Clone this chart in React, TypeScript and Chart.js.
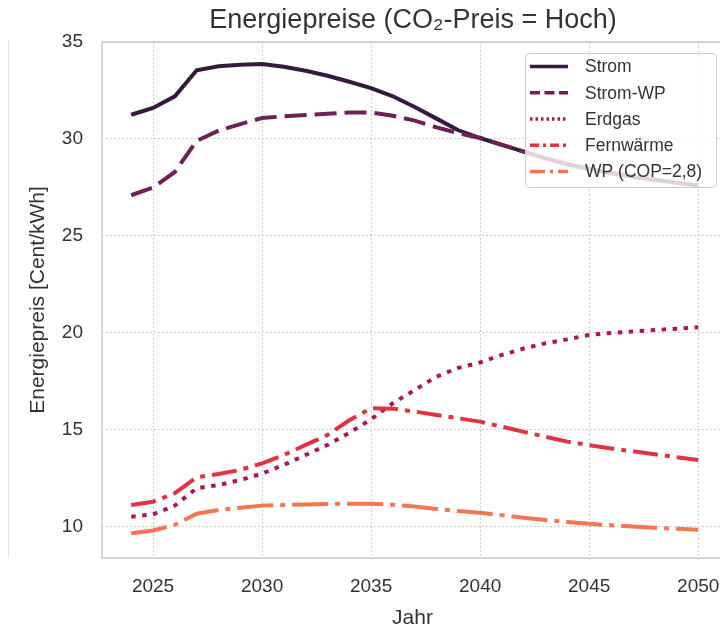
import React, { useEffect, useRef } from "react";
import { Chart, registerables } from "chart.js";

Chart.register(...registerables);

const years = [2024, 2025, 2026, 2027, 2028, 2029, 2030, 2031, 2032, 2033, 2034, 2035, 2036, 2037, 2038, 2039, 2040, 2041, 2042, 2043, 2044, 2045, 2046, 2047, 2048, 2049, 2050];
const strom = [31.25, 31.6, 32.2, 33.54, 33.75, 33.83, 33.87, 33.72, 33.52, 33.26, 32.95, 32.62, 32.2, 31.65, 31.05, 30.45, 30.05, 29.7, 29.35, 29.0, 28.7, 28.45, 28.25, 28.05, 27.9, 27.75, 27.6];
const stromWP = [27.1, 27.5, 28.3, 29.9, 30.43, 30.77, 31.08, 31.17, 31.24, 31.3, 31.37, 31.37, 31.2, 30.95, 30.6, 30.3, 30.05, 29.7, 29.35, 29.0, 28.7, 28.45, 28.25, 28.05, 27.9, 27.75, 27.6];
const erdgas = [10.53, 10.65, 11.1, 12.0, 12.16, 12.42, 12.75, 13.2, 13.71, 14.23, 14.85, 15.55, 16.38, 17.06, 17.75, 18.2, 18.48, 18.87, 19.2, 19.47, 19.67, 19.9, 20.0, 20.08, 20.15, 20.22, 20.3];
const fernwaerme = [11.13, 11.3, 11.74, 12.56, 12.73, 12.94, 13.28, 13.71, 14.23, 14.74, 15.5, 16.12, 16.1, 15.95, 15.77, 15.6, 15.43, 15.17, 14.9, 14.65, 14.4, 14.22, 14.05, 13.9, 13.75, 13.6, 13.45];
const wpCop = [9.68, 9.82, 10.11, 10.68, 10.87, 10.99, 11.1, 11.13, 11.16, 11.18, 11.2, 11.2, 11.14, 11.05, 10.93, 10.82, 10.73, 10.61, 10.48, 10.36, 10.25, 10.16, 10.09, 10.02, 9.96, 9.91, 9.86];

const seriesLabels = ["Strom", "Strom-WP", "Erdgas", "Fernwärme", "WP (COP=2,8)"];
const seriesValues = [strom, stromWP, erdgas, fernwaerme, wpCop];
const colors = ["#35193e", "#701f57", "#ad1759", "#e13342", "#f37651"];
const plotDash: number[][] = [[], [22, 8], [4.5, 6.5], [25, 7, 5, 7], [36, 7, 5, 7]];
const legendDash: number[][] = [[], [10, 4.5], [2.5, 3], [9, 4, 3, 4], [15, 5, 3, 5]];

const xTicks = [2025, 2030, 2035, 2040, 2045, 2050];
const yTicks = [10, 15, 20, 25, 30, 35];

const titleText = "Energiepreise (CO₂-Preis = Hoch)";
const xTitle = "Jahr";
const yTitle = "Energiepreis [Cent/kWh]";

const FONT = '"Liberation Sans", Arial, Helvetica, sans-serif';
const TEXT = "#333333";

const decor = {
  id: "decor",
  beforeDraw(chart: any) {
    const { ctx, chartArea: a } = chart;
    ctx.save();
    ctx.strokeStyle = "#cccccc";
    ctx.lineWidth = 1.5;
    ctx.beginPath();
    ctx.moveTo(a.left, a.top);
    ctx.lineTo(a.right, a.top);
    ctx.moveTo(a.left, a.top);
    ctx.lineTo(a.left, a.bottom);
    ctx.lineTo(a.right, a.bottom);
    ctx.stroke();
    // faint figure edge line
    ctx.strokeStyle = "#e4e4e4";
    ctx.lineWidth = 1;
    ctx.beginPath();
    ctx.moveTo(8.5, a.top - 2);
    ctx.lineTo(8.5, a.bottom);
    ctx.stroke();
    ctx.restore();
  },
  afterDraw(chart: any) {
    const { ctx, chartArea: a } = chart;
    ctx.save();
    ctx.fillStyle = TEXT;
    // title
    ctx.font = `27px ${FONT}`;
    ctx.textAlign = "center";
    ctx.textBaseline = "alphabetic";
    ctx.fillText(titleText, 413, 28);
    // x title
    ctx.font = `21px ${FONT}`;
    ctx.fillText(xTitle, 412.5, 623.5);
    // y title
    ctx.save();
    ctx.translate(43.5, (a.top + a.bottom) / 2);
    ctx.rotate(-Math.PI / 2);
    ctx.fillText(yTitle, 0, 0);
    ctx.restore();

    // legend
    const lx = a.right - 195;
    const ly = a.top + 11;
    const lw = 191;
    const lh = 134;
    ctx.beginPath();
    ctx.roundRect(lx + 0.5, ly + 0.5, lw, lh, 4);
    ctx.fillStyle = "rgba(255,255,255,0.8)";
    ctx.fill();
    ctx.strokeStyle = "#cccccc";
    ctx.lineWidth = 1;
    ctx.stroke();
    ctx.font = `17.5px ${FONT}`;
    ctx.textAlign = "left";
    ctx.textBaseline = "middle";
    seriesLabels.forEach((label, i) => {
      const y = ly + 13.5 + i * 26.25;
      ctx.save();
      ctx.strokeStyle = colors[i];
      ctx.lineWidth = 3.5;
      ctx.lineCap = "butt";
      ctx.setLineDash(legendDash[i]);
      ctx.beginPath();
      ctx.moveTo(lx + 5, y);
      ctx.lineTo(lx + 43, y);
      ctx.stroke();
      ctx.restore();
      ctx.fillStyle = TEXT;
      ctx.fillText(label, lx + 60, y + 1);
    });
    ctx.restore();
  },
};

export default function App() {
  const ref = useRef<HTMLCanvasElement>(null);

  useEffect(() => {
    if (!ref.current) return;
    const datasets = seriesLabels.map((label, i) => ({
      label,
      data: years.map((x, j) => ({ x, y: seriesValues[i][j] })),
      borderColor: colors[i],
      backgroundColor: colors[i],
      borderWidth: 4,
      borderDash: plotDash[i],
      borderCapStyle: "butt" as const,
      pointRadius: 0,
      tension: 0,
      fill: false,
      order: seriesLabels.length - i,
    }));
    const chart = new Chart(ref.current, {
      type: "line",
      data: { datasets },
      options: {
        responsive: false,
        animation: false,
        layout: { padding: { top: 42, left: 0, right: 0, bottom: 0 } },
        plugins: {
          legend: { display: false },
          title: { display: false },
          tooltip: { enabled: false },
        },
        scales: {
          x: {
            type: "linear",
            min: 2022.66,
            max: 2051.0,
            afterBuildTicks: (s: any) => {
              s.ticks = xTicks.map((v) => ({ value: v }));
            },
            afterFit: (s: any) => {
              s.height = 67;
              s.paddingLeft = 0;
              s.paddingRight = 0;
              s.paddingTop = 0;
              s.paddingBottom = 0;
            },
            ticks: {
              autoSkip: false,
              maxRotation: 0,
              padding: 17,
              color: TEXT,
              font: { family: FONT, size: 19 },
              callback: (v: any) => String(v),
            },
            grid: { color: "#bdbdbd", lineWidth: 1, drawTicks: false },
            border: { display: false, dash: [1.5, 2.5] },
          },
          y: {
            type: "linear",
            min: 8.4,
            max: 35.0,
            afterBuildTicks: (s: any) => {
              s.ticks = yTicks.map((v) => ({ value: v }));
            },
            afterFit: (s: any) => {
              s.width = 102;
              s.paddingLeft = 0;
              s.paddingRight = 0;
              s.paddingTop = 0;
              s.paddingBottom = 0;
            },
            ticks: {
              padding: 19,
              color: TEXT,
              font: { family: FONT, size: 19 },
              callback: (v: any) => String(v),
            },
            grid: { color: "#bdbdbd", lineWidth: 1, drawTicks: false },
            border: { display: false, dash: [1.5, 2.5] },
          },
        },
      },
      plugins: [decor],
    });
    return () => chart.destroy();
  }, []);

  return (
    <div style={{ position: "fixed", left: 0, top: 0, width: 720, height: 625, background: "#fff" }}>
      <canvas ref={ref} width={720} height={625} style={{ display: "block" }} />
    </div>
  );
}
